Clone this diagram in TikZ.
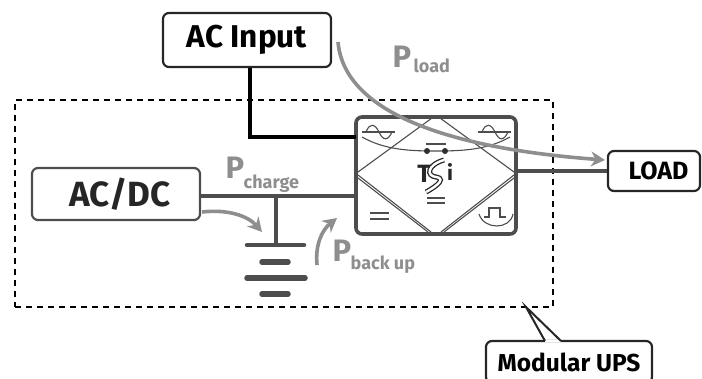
\documentclass[tikz,border=0pt]{standalone}
\usepackage{fontspec}
\setmainfont{Fira Sans}
\usepackage{tikz}
\usetikzlibrary{positioning,arrows.meta}
\definecolor{wiregray}{HTML}{4D4D4D}
\definecolor{flowgray}{HTML}{8E8E8E}
\tikzset{
    blackbox/.style={draw=black!85, line width=2.2pt, rounded corners=6pt, font=\bfseries\fontsize{31.5}{34}\selectfont},
    loadbox/.style={blackbox, font=\bfseries\fontsize{25}{28}\selectfont},
    flow/.style={draw=flowgray, line width=3.6pt, -{Stealth[length=14pt,width=15pt]}},
    wire/.style={draw=wiregray, line width=3.6pt},
    thin wire/.style={draw=wiregray, line width=1.1pt},
    bigp/.style={text=flowgray, font=\bfseries\fontsize{31}{33}\selectfont, inner sep=0pt},
    subp/.style={text=flowgray, font=\bfseries\fontsize{18}{20}\selectfont, inner sep=0pt},
}
\begin{document}
\begin{tikzpicture}[x=1pt, y=-1pt]
\useasboundingbox (0,0) rectangle (702,378);
\clip (0,0) rectangle (702,378);

% Boxes
\node[blackbox, minimum width=168pt, minimum height=54pt] (acin) at (247,40) {AC Input};
\node[blackbox, draw=wiregray, text=black!85, font=\bfseries\fontsize{35}{38}\selectfont, minimum width=168pt, minimum height=52pt] (acdc) at (116,194) {\hspace*{8pt}AC/DC};
\node[loadbox, minimum width=92pt, minimum height=40pt] (load) at (654,171) {\hspace*{9pt}LOAD};
\node[draw=wiregray, line width=3.6pt, rounded corners=6pt, minimum width=160pt, minimum height=117pt] (ups) at (436,175.5) {};

% Modular UPS frame
\node[draw=black, line width=2.2pt, dash pattern=on 6pt off 5pt, minimum width=538pt, minimum height=207pt, inner sep=0pt] (frame) at (284,203.5) {};
\node[blackbox, font=\bfseries\fontsize{24.5}{27}\selectfont, minimum width=166pt, minimum height=42pt] (modups) at (569,362) {Modular UPS};
\coordinate (tip) at (526,307);
\coordinate (tipa) at (545,341);
\coordinate (tipb) at (561,341);
\draw[white, line width=2.6pt] (tipa) -- (tipb);
\draw[black!85, line width=2pt] (tipa) -- (tip) -- (tipb);

% Battery
\coordinate (bat) at (276,196);
\coordinate (plate1) at (276,245);
\draw[wire, line cap=round, line width=4.5pt] (247,245) -- (plate1) -- (304,245);
\draw[wire, line cap=round, line width=5.5pt] (262,262) -- (288,262);
\draw[wire, line cap=round, line width=5.5pt] (247,278) -- (305,278);
\draw[wire, line cap=round, line width=5.5pt] (262,294) -- (288,294);

% Connections
\coordinate (upsin) at (356,137);
\coordinate (corner) at (250,137);
\draw[draw=black, line width=4.6pt] (acin.south -| corner) -- (corner) -- (upsin);
\draw[wire] (acdc.east |- bat) -- (bat) -- (ups.west |- bat);
\draw[wire] (bat) -- (plate1);
\draw[wire] (ups.east |- load) -- (load.west);

% Inside of the UPS
\coordinate (dl) at (358,172);
\coordinate (dr) at (514,172);
\draw[thin wire] (dl) -- (432,118);
\draw[thin wire] (dr) -- (440,118);
\draw[thin wire] (358,175) -- (431,232);
\draw[thin wire] (358,178) -- (428,232);
\draw[thin wire] (514,175) -- (441,232);
\draw[thin wire] (514,178) -- (444,232);
\draw[thin wire] (362,137) .. controls (385,150) and (410,151) .. (436,151) .. controls (462,151) and (487,150) .. (510,137);
\fill[wiregray!60!black] (427,151) circle (3pt) (445,151) circle (3pt);
\draw[thin wire] (426,144) -- (446,144);
% sine icons
\foreach \ox in {0,116} {
    \draw[thin wire] (362+\ox,132) -- (395+\ox,132);
    \draw[thin wire] (366+\ox,132) .. controls (370+\ox,122) and (375+\ox,124) .. (379+\ox,132) .. controls (383+\ox,141) and (388+\ox,141) .. (392+\ox,132);
}
% dc bars
\draw[thin wire] (427,198) -- (445,198) (427,203) -- (445,203);
\draw[thin wire] (370,213) -- (389,213) (370,219) -- (389,219);
% pulse
\draw[thin wire] (484,217) -- (489,217) -- (489,208) -- (500,208) -- (500,217) -- (506,217);
\draw[thin wire] (479,214) .. controls (484,230) and (510,230) .. (513,214);
% logo
\node[inner sep=0pt, font=\bfseries\fontsize{25}{27}\selectfont, text=black!85] (logot) at (424,174) {T};
\node[inner sep=0pt, font=\bfseries\fontsize{21}{23}\selectfont, text=black!85] (logoi) at (450,172) {i};
\draw[black!85, line width=5pt] (444,160) .. controls (427,165) and (426,176) .. (436,177) .. controls (449,179) and (430,190) .. (426,192);
\draw[white, line width=2.4pt] (444,160) .. controls (427,165) and (426,176) .. (436,177) .. controls (449,179) and (430,190) .. (426,192);

% Power flows
\draw[flow] (338,42) .. controls (345,120) and (470,150) .. (605,160);
\draw[flow] (202,212) .. controls (228,209) and (248,216) .. (262,232);
\draw[flow] (317,265) .. controls (315,245) and (322,230) .. (337,218);

% Labels
\node[bigp] (pload) at (402,56.5) {P};
\node[subp, anchor=base west] (pload sub) at ([xshift=2pt,yshift=-5pt]pload.base east) {load};
\node[bigp] (pcharge) at (235,167.5) {P};
\node[subp, anchor=base west] (pcharge sub) at ([xshift=-1pt,yshift=-10pt]pcharge.base east) {charge};
\node[bigp] (pback) at (342,251) {P};
\node[subp, anchor=base west] (pback sub) at ([xshift=-1pt,yshift=-8pt]pback.base east) {back up};
\end{tikzpicture}
\end{document}
